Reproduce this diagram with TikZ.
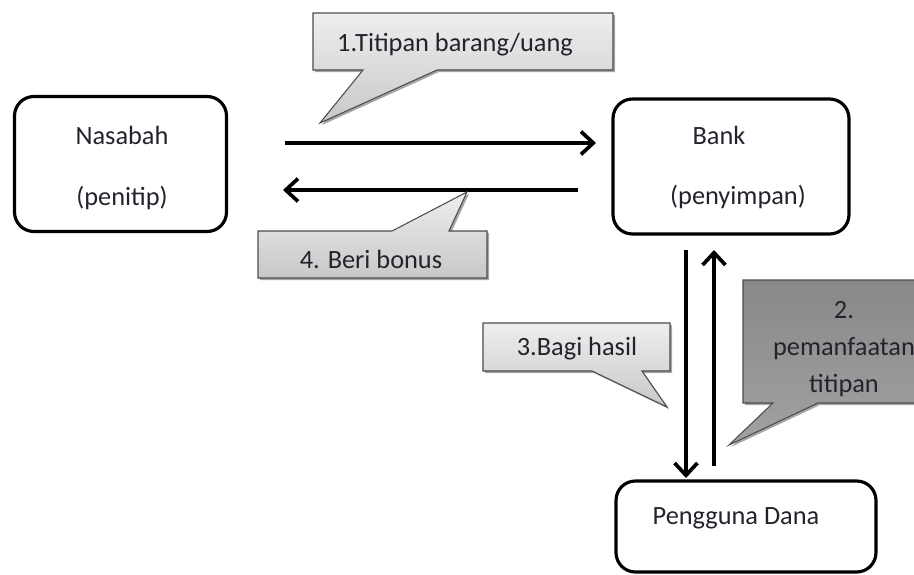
\documentclass[tikz,border=0pt]{standalone}
\usepackage{fontspec}
\setmainfont{Carlito}
\usepackage{tikz}
\usetikzlibrary{arrows.meta}
\definecolor{txtdark}{RGB}{35,35,45}
\definecolor{calloutlight}{RGB}{238,238,238}
\definecolor{calloutmid}{RGB}{200,200,200}
\definecolor{calloutdarktop}{RGB}{136,136,136}
\definecolor{calloutdarkbot}{RGB}{162,162,162}

\tikzset{
  party/.style={draw, line width=1.8pt, rounded corners=11pt},
  flow/.style={line width=2.1pt, -{Straight Barb[length=7pt, width=13pt, line width=2.1pt]}},
  bubble/.style={draw=black!70, line width=0.6pt, top color=calloutlight, bottom color=calloutmid},
  darkbubble/.style={draw=black!70, line width=0.6pt, top color=calloutdarktop, bottom color=calloutdarkbot},
  bubbleshadow/.style={fill=black, opacity=0.35},
  label/.style={text=txtdark, inner sep=0pt}
}

\begin{document}
\begin{tikzpicture}[x=0.02cm, y=-0.02cm, font=\fontsize{15}{18}\selectfont]
\useasboundingbox (0,0) rectangle (914,575);
\clip (0,0) rectangle (914,575);

% three parties
\node [party, minimum width=4.24cm, minimum height=2.7cm] (nasabah) at (120.5,164) {};
\node [party, minimum width=4.72cm, minimum height=2.7cm] (bank) at (731,166.5) {};
\node [party, minimum width=5.2cm, minimum height=1.82cm] (pengguna) at (746,526.5) {};
\node [label] (nasabahname) at (122,135) {Nasabah};
\node [label] (nasabahrole) at (122,198) {(penitip)};
\node [label] (bankname) at (719,135) {Bank};
\node [label] (bankrole) at (738,197) {(penyimpan)};
\node [label] (penggunaname) at (736,518) {Pengguna Dana};

% arrows
\coordinate (titipstart) at (285,143);
\coordinate (titipend) at (596,143);
\coordinate (bonusstart) at (578,190);
\coordinate (bonusend) at (283,190);
\coordinate (hasilstart) at (686,250);
\coordinate (hasilend) at (686,478);
\coordinate (manfaatstart) at (714,466);
\coordinate (manfaatend) at (714,250);
\draw [flow] (titipstart) -- (titipend);
\draw [flow] (bonusstart) -- (bonusend);
\draw [flow] (hasilstart) -- (hasilend);
\draw [flow] (manfaatstart) -- (manfaatend);

% callout 1
\fill [bubbleshadow, shift={(2,2)}] (313,13) -- (613,13) -- (613,70) -- (437,70) -- (320,123) -- (363,70) -- (313,70) -- cycle;
\draw [bubble] (313,13) -- (613,13) -- (613,70) -- (437,70) -- (320,123) -- (363,70) -- (313,70) -- cycle;
\node [label] (titiplabel) at (455,45) {1.Titipan barang/uang};

% callout 4
\fill [bubbleshadow, shift={(2,2)}] (258,231) -- (392,231) -- (467,192) -- (449,231) -- (487,231) -- (487,278) -- (258,278) -- cycle;
\draw [bubble] (258,231) -- (392,231) -- (467,192) -- (449,231) -- (487,231) -- (487,278) -- (258,278) -- cycle;
\node [label] (bonuslabel) at (371,259) {4. Beri bonus};

% callout 3
\fill [bubbleshadow, shift={(2,2)}] (483,323) -- (670,323) -- (670,371) -- (642,371) -- (667,407) -- (592,371) -- (483,371) -- cycle;
\draw [bubble] (483,323) -- (670,323) -- (670,371) -- (642,371) -- (667,407) -- (592,371) -- (483,371) -- cycle;
\node [label] (hasillabel) at (577,349) {3.Bagi hasil};

% callout 2
\fill [bubbleshadow, shift={(2,2)}] (743,280) -- (930,280) -- (930,403) -- (818,403) -- (729,445) -- (773,403) -- (743,403) -- cycle;
\draw [darkbubble] (743,280) -- (930,280) -- (930,403) -- (818,403) -- (729,445) -- (773,403) -- (743,403) -- cycle;
\node [label, align=center, font=\fontsize{15}{21}\selectfont] (manfaatlabel) at (844,349) {2.\\pemanfaatan\\titipan};

\end{tikzpicture}
\end{document}
